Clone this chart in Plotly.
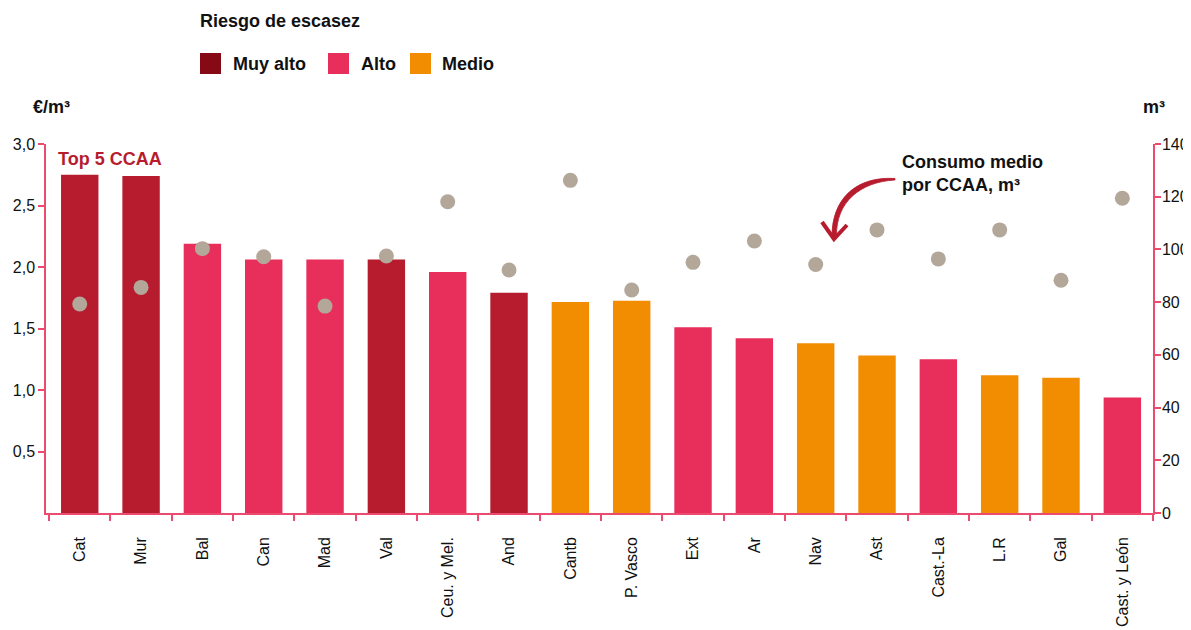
import plotly.graph_objects as go

categories = ["Cat", "Mur", "Bal", "Can", "Mad", "Val", "Ceu. y Mel.", "And", "Cantb",
              "P. Vasco", "Ext", "Ar", "Nav", "Ast", "Cast.-La", "L.R", "Gal", "Cast. y León"]
precio = [2.75, 2.74, 2.19, 2.06, 2.06, 2.06, 1.96, 1.79, 1.715,
          1.725, 1.51, 1.42, 1.38, 1.28, 1.25, 1.12, 1.10, 0.94]
consumo = [79.3, 85.6, 100.3, 97.2, 78.5, 97.5, 118.1, 92.2, 126.2,
           84.6, 95.1, 103.2, 94.3, 107.4, 96.4, 107.4, 88.3, 119.4]
riesgo = ["Muy alto", "Muy alto", "Alto", "Alto", "Alto", "Muy alto", "Alto", "Muy alto", "Medio",
          "Medio", "Alto", "Alto", "Medio", "Medio", "Alto", "Medio", "Medio", "Alto"]
riesgo_niveles = ["Muy alto", "Alto", "Medio"]
left_ticks = [0.5, 1.0, 1.5, 2.0, 2.5, 3.0]
left_ticktext = ["0,5", "1,0", "1,5", "2,0", "2,5", "3,0"]
right_ticks = [0, 20, 40, 60, 80, 100, 120, 140]

bar_colors = {"Muy alto": "#B71C2E", "Alto": "#E82E5A", "Medio": "#F28C00"}
legend_colors = {"Muy alto": "#860A16", "Alto": "#E82E5A", "Medio": "#F28C00"}
AXIS = "#EC4A6E"
FONT = "Liberation Sans, Arial, Helvetica, sans-serif"

# page body has an 8px margin; work in reference pixel coordinates and shift
OFF = 8
W, H = 1191 - OFF, 630 - OFF
L, R, T, B = 46, 1153, 144, 513   # plot area in reference pixels


def px(x):
    return (x - L) / (R - L)


def py(y):
    return (B - y) / (B - T)


fig = go.Figure()
fig.add_trace(go.Bar(
    x=categories, y=precio,
    marker=dict(color=[bar_colors[r] for r in riesgo], line=dict(width=0)),
    showlegend=False, hoverinfo="x+y",
))
fig.add_trace(go.Scatter(
    x=categories, y=consumo, yaxis="y2", mode="markers",
    marker=dict(size=15, color="#B3A79A", line=dict(width=0)),
    showlegend=False,
))

annotations = []
shapes = []
BIG = 18

annotations.append(dict(x=px(198), y=py(21), xref="paper", yref="paper", text="<b>Riesgo de escasez</b>",
                        showarrow=False, xanchor="left", yanchor="middle",
                        font=dict(size=BIG, color="#111", family=FONT)))
sq_x = {"Muy alto": 200, "Alto": 328, "Medio": 410}
txt_x = {"Muy alto": 231, "Alto": 359, "Medio": 440}
for lvl in riesgo_niveles:
    shapes.append(dict(type="rect", xref="paper", yref="paper",
                       x0=px(sq_x[lvl]), x1=px(sq_x[lvl] + 21), y0=py(74), y1=py(53),
                       fillcolor=legend_colors[lvl], line=dict(width=0)))
    annotations.append(dict(x=px(txt_x[lvl]), y=py(64), xref="paper", yref="paper",
                            text=f"<b>{lvl}</b>", showarrow=False, xanchor="left", yanchor="middle",
                            font=dict(size=BIG, color="#111", family=FONT)))

annotations.append(dict(x=px(31), y=py(107), xref="paper", yref="paper", text="<b>€/m³</b>",
                        showarrow=False, xanchor="left", yanchor="middle",
                        font=dict(size=BIG, color="#111", family=FONT)))
annotations.append(dict(x=px(1141), y=py(107), xref="paper", yref="paper", text="<b>m³</b>",
                        showarrow=False, xanchor="left", yanchor="middle",
                        font=dict(size=BIG, color="#111", family=FONT)))
annotations.append(dict(x=px(56), y=py(159), xref="paper", yref="paper", text="<b>Top 5 CCAA</b>",
                        showarrow=False, xanchor="left", yanchor="middle",
                        font=dict(size=BIG, color="#B71C2E", family=FONT)))
annotations.append(dict(x=px(900), y=py(173), xref="paper", yref="paper",
                        text="<b>Consumo medio<br>por CCAA, m³</b>", align="left",
                        showarrow=False, xanchor="left", yanchor="middle",
                        font=dict(size=BIG, color="#111", family=FONT)))


def P(x, y):
    return f"{px(x):.5f},{py(y):.5f}"


# tapered curved arrow (filled) plus arrowhead
shapes.append(dict(type="path", xref="paper", yref="paper",
                   path=(f"M {P(895,178.5)} C {P(857,176)} {P(832,198)} {P(832,236)} "
                         f"L {P(836.5,236)} C {P(836,202)} {P(860,182)} {P(895,180)} Z"),
                   fillcolor="#B71C2E", line=dict(color="#B71C2E", width=0.8)))
shapes.append(dict(type="path", xref="paper", yref="paper",
                   path=f"M {P(822,222)} L {P(834,239)} L {P(847,225)}",
                   line=dict(color="#B71C2E", width=4)))

axis_common = dict(showgrid=False, showline=True, linecolor=AXIS, linewidth=1.5,
                   ticks="outside", ticklen=6, tickcolor=AXIS, tickwidth=1.5, zeroline=False)

fig.update_layout(
    width=W, height=H,
    margin=dict(l=L - OFF, r=W - (R - OFF), t=T - OFF, b=H - (B - OFF), autoexpand=False),
    paper_bgcolor="white", plot_bgcolor="white",
    bargap=0.39,
    font=dict(family=FONT, size=16, color="#111"),
    xaxis=dict(
        type="category", tickson="boundaries", tickangle=-90, ticklabelstandoff=16,
        tickfont=dict(size=16, color="#111"), range=[-0.55, len(categories) - 0.5],
        **axis_common,
    ),
    yaxis=dict(
        range=[0, 3], tickvals=left_ticks, ticktext=left_ticktext,
        tickfont=dict(size=16, color="#111"), **axis_common,
    ),
    yaxis2=dict(
        range=[0, 140], tickvals=right_ticks, overlaying="y", side="right",
        ticklabelstandoff=-2,
        tickfont=dict(size=16, color="#111"), **axis_common,
    ),
    annotations=annotations, shapes=shapes,
)

fig.write_html("out.html")
